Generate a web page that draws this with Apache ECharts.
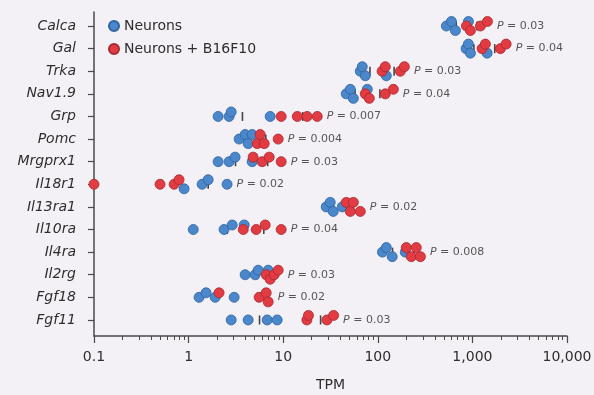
<!DOCTYPE html>
<html><head><meta charset="utf-8">
<script src="https://cdn.jsdelivr.net/npm/echarts@6/dist/echarts.min.js"></script>
<style>html,body{margin:0;padding:0;background:#f3f0f6}#c{width:594px;height:395px}</style>
</head><body><div id="c"></div>
<script>
// ---- data ----
const genes = ['Calca','Gal','Trka','Nav1.9','Grp','Pomc','Mrgprx1','Il18r1','Il13ra1','Il10ra','Il4ra','Il2rg','Fgf18','Fgf11'];
const neurons = [
  [531, 600, 661, 908],
  [858, 907, 953, 1431],
  [65.3, 68.5, 73.7, 123],
  [46.4, 51.2, 55.1, 77.4],
  [2.05, 2.68, 2.82, 7.28],
  [3.42, 3.96, 4.26, 4.70],
  [2.05, 2.68, 3.10, 4.70],
  [0.896, 1.39, 1.61, 2.55],
  [28.5, 31.4, 33.8, 42.1],
  [1.12, 2.37, 2.89, 3.87],
  [112, 123, 142, 195],
  [3.96, 5.05, 5.44, 6.94],
  [1.29, 1.53, 1.91, 3.03],
  [2.82, 4.26, 6.77, 8.64]
];
const tumor = [
  [865, 953, 1216, 1442],
  [1267, 1372, 1977, 2273],
  [111, 120, 173, 191],
  [73.7, 81.3, 120, 146],
  [9.52, 14.1, 17.9, 22.9],
  [5.31, 5.71, 6.30, 8.85],
  [4.81, 5.99, 7.11, 9.52],
  [0.1, 0.499, 0.703, 0.793],
  [46.4, 51.2, 55.1, 65.3],
  [3.78, 5.18, 6.45, 9.52],
  [200, 226, 255, 282],
  [6.61, 7.28, 8.03, 8.85],
  [2.10, 5.57, 6.61, 6.94],
  [17.8, 18.5, 29.0, 34.1]
];
const pValues = ['0.03','0.04','0.03','0.04','0.007','0.004','0.03','0.02','0.02','0.04','0.008','0.03','0.02','0.03'];
const xTickValues = [0.1, 1, 10, 100, 1000, 10000];
const xTickLabels = ['0.1', '1', '10', '100', '1,000', '10,000'];
const seriesNames = ['Neurons', 'Neurons + B16F10'];

// ---- build ----
const minorTicks = [];
for (let d = -1; d < 4; d++) for (let m = 2; m <= 9; m++) minorTicks.push(m * Math.pow(10, d));

const blueData = [], redData = [], blueMean = [], redMean = [], pData = [];
genes.forEach((g, i) => {
  const pts = [];
  neurons[i].forEach(v => pts.push({v, s: 0, lx: Math.log10(v)}));
  tumor[i].forEach(v => pts.push({v, s: 1, lx: Math.log10(v)}));
  pts.sort((a, b) => a.lx - b.lx);
  const placed = [];
  for (const p of pts) {
    let best = 0, bestD = -1;
    for (const off of [0, -0.2, 0.2]) {
      let d = Infinity;
      for (const q of placed) d = Math.min(d, Math.hypot((p.lx - q.lx) * 94.5, (off - q.off) * 22.6));
      if (d >= 9) { best = off; bestD = d; break; }
      if (d > bestD) { bestD = d; best = off; }
    }
    p.off = best; placed.push(p);
    (p.s === 0 ? blueData : redData).push([p.v, i + p.off]);
  }
  const mean = a => a.reduce((s, x) => s + x, 0) / a.length;
  blueMean.push([mean(neurons[i]), i]);
  redMean.push([mean(tumor[i]), i]);
  pData.push([Math.max(...neurons[i], ...tumor[i]), i]);
});

const FONT = 'DejaVu Sans, sans-serif';
const TXT = '#2e2e2e';
const chart = echarts.init(document.getElementById('c'));
chart.setOption({
  backgroundColor: '#f3f0f6',
  animation: false,
  textStyle: {fontFamily: FONT},
  grid: {left: 94, right: 27, top: 12, bottom: 59, containLabel: false, outerBoundsMode: 'none'},
  legend: {
    data: seriesNames, orient: 'vertical', left: 103, top: 14,
    itemWidth: 10, itemHeight: 10, itemGap: 9, icon: 'circle',
    textStyle: {fontSize: 14, color: TXT, fontFamily: FONT}
  },
  xAxis: [{
    type: 'log', logBase: 10, min: 0.1, max: 10000,
    name: 'TPM', nameLocation: 'middle', nameGap: 42,
    nameTextStyle: {fontSize: 14, color: TXT, fontFamily: FONT},
    axisLine: {onZero: false, lineStyle: {color: '#4a4a4a', width: 1.5}},
    axisTick: {length: 7, lineStyle: {color: '#4a4a4a', width: 1.2}, customValues: xTickValues},
    axisLabel: {
      customValues: xTickValues, margin: 14, fontSize: 14, color: TXT, fontFamily: FONT,
      formatter: v => { let k = xTickValues.findIndex(t => Math.abs(Math.log10(t) - Math.log10(v)) < 1e-6); return k >= 0 ? xTickLabels[k] : ''; }
    },
    splitLine: {show: false}
  }, {
    type: 'log', logBase: 10, min: 0.1, max: 10000, position: 'bottom', gridIndex: 0,
    axisLine: {show: false, onZero: false},
    axisTick: {length: 4, lineStyle: {color: '#4a4a4a', width: 1}, customValues: minorTicks},
    axisLabel: {show: false}, splitLine: {show: false}
  }],
  yAxis: {
    type: 'value', inverse: true, min: -0.62, max: 13.71,
    axisLine: {show: true, onZero: false, lineStyle: {color: '#4a4a4a', width: 1.5}},
    axisTick: {show: true, length: 6, lineStyle: {color: '#4a4a4a', width: 1.2}, customValues: genes.map((g, i) => i)},
    axisLabel: {
      customValues: genes.map((g, i) => i), margin: 18, fontSize: 14, fontStyle: 'italic', color: TXT, fontFamily: FONT,
      formatter: v => genes[Math.round(v)] || ''
    },
    splitLine: {show: false}
  },
  series: [
    {type: 'scatter', name: 'mean1', data: blueMean, symbol: 'rect', symbolSize: [1.6, 9], itemStyle: {color: '#1a1a1a'}, z: 1, clip: false, silent: true},
    {type: 'scatter', name: 'mean2', data: redMean, symbol: 'rect', symbolSize: [1.6, 9], itemStyle: {color: '#1a1a1a'}, z: 1, clip: false, silent: true},
    {type: 'scatter', name: seriesNames[0], data: blueData, symbol: 'circle', symbolSize: 10, clip: false, z: 3,
      itemStyle: {color: '#4a87cb', borderColor: '#2f62a0', borderWidth: 0.8, opacity: 1}},
    {type: 'scatter', name: seriesNames[1], data: redData, symbol: 'circle', symbolSize: 10, clip: false, z: 3,
      itemStyle: {color: '#e23b41', borderColor: '#a52a30', borderWidth: 0.8, opacity: 1}},
    {type: 'scatter', name: 'p', data: pData, symbolSize: 1, itemStyle: {color: 'rgba(0,0,0,0)'}, clip: false, silent: true, z: 4,
      label: {show: true, position: 'right', distance: 9, fontSize: 11, color: TXT, fontFamily: FONT,
        formatter: p => '{i|P} = ' + pValues[p.dataIndex],
        rich: {i: {fontStyle: 'italic', fontSize: 11, color: TXT, fontFamily: FONT}}}}
  ]
});
</script></body></html>
